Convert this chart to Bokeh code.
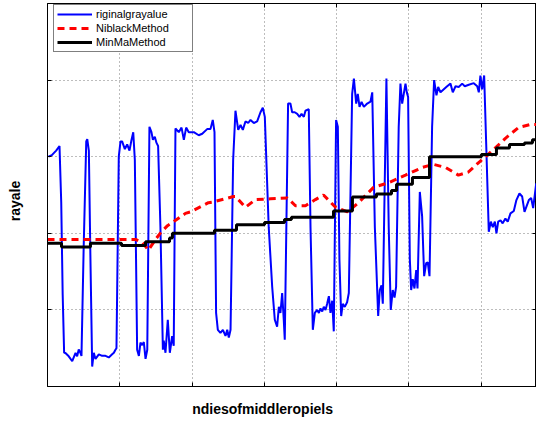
import math
from bokeh.plotting import figure
from bokeh.models import Range1d, LinearAxis, FixedTicker, Legend, LegendItem, Title
from bokeh.embed import file_html
from bokeh.resources import INLINE

# ---- data (pixel index along the middle row, gray value) ----
orig_x = [0.7, 3, 6, 8.3,
          9.5, 10.5, 11.5, 12.4, 14.7, 17.1, 19.4, 20.5, 21.6, 22.8,
          23.5, 25, 26.8, 27.5, 28.6, 29.7, 30.9,
          32, 33.2, 35.5, 37.8, 40.1, 42.4, 44.7, 45.9, 47,
          47.7, 49.3, 50.5, 51.6, 53.5, 55.1, 56.7, 58.1, 59.3,
          60.4, 62, 63.2, 64.3, 65.5, 66.6, 67.8, 69,
          70.5, 71.9, 72.9, 74.2, 75.4, 76.5,
          78.1, 79.8, 80.4, 81.6, 83.2, 84.6, 86.2, 87.3,
          88.5, 90.8, 92.7, 94.3, 95.9, 97.7, 101.2, 104.6, 107, 110.4, 112.7, 114.3, 115.5,
          116.6, 117.8, 119.6, 121.3, 123.1, 124.3, 125.4, 126.6,
          128.4, 130, 131.9, 133.5, 135.1, 136.9, 138.8, 140.4, 142.7, 145, 147.3, 148.9, 150.3,
          153, 155.4, 157.2, 158.8, 160, 161.1, 162.3, 163.4, 164.1,
          166.4, 168, 169.2, 171, 172.7, 174.3, 175.7, 177.3, 178.4, 180.7,
          181.9, 183.5, 184.9, 186.5, 187.7, 188.8, 190, 191.1, 192.3, 193.4, 194.6, 195.7, 196.9, 198,
          199.6, 200.8, 201.9, 203.1, 204.2, 205.6, 207.2, 208.4,
          210.7, 211.9, 213.5, 214.6, 215.8, 217.2, 218.8, 221.1, 223.4, 224.6,
          226.4, 228.7, 229.8, 231, 231.9,
          234.4, 236, 237.4, 238.8, 240, 241.1,
          242.9, 244.1, 245.3, 246.4, 247.6, 248.5, 249.4,
          250.6, 251.5, 252.6, 253.8, 255, 255.9,
          257.5, 259.1, 260.5, 261.9, 263, 264.2,
          266, 267.4, 269, 270.2, 271.8, 274.1, 276.4, 278.7, 280.3, 282.2, 284.4, 286.8, 288.6,
          291.4, 294.8, 297.2, 298.3, 299.4, 300.6, 302,
          303.4, 305.2, 306.6, 308, 309.4, 310.5, 311.7, 313.3, 314.8, 316.7, 318.3, 320.2, 322.5,
          324.3, 326.4, 328.3, 329.9, 331.3, 332.9, 334.5, 335.9, 338]
orig_y = [150, 151, 154, 157,
          120, 60, 22, 21.9, 19.7, 16.5, 21.9, 19.7, 24.1, 21.9,
          20, 90, 160, 161.5, 154, 83, 13,
          22, 18, 21, 20, 20, 19, 21, 22, 24,
          25, 150, 160, 160, 155, 158, 154, 161, 166,
          148, 24, 20, 28.6, 27, 29, 18, 24,
          169.5, 166, 161, 163, 159, 157,
          104, 24, 30, 22, 43.6, 22, 32.8, 26.6,
          168.4, 166, 169, 161, 169, 166, 166, 164, 165, 168, 168, 174, 166,
          48, 37, 35, 37, 33, 37, 32, 37,
          148, 180, 167.5, 170.7, 167.5, 173, 172, 174, 172, 173, 179, 182, 176,
          104, 65, 43.6, 39, 52, 48, 61, 43.6, 30.6,
          184.7, 184.7, 179, 179, 178, 176, 178, 176, 180, 181,
          104, 37, 48, 50, 48, 51, 49, 52, 50, 54, 59, 48, 56, 36,
          174, 169.5, 83, 46, 54, 52, 55, 61,
          191, 201, 184.7, 191, 182.5, 185.8, 182.5, 184.7, 186, 192,
          104, 46, 63, 66, 54,
          201, 104, 50, 63, 58, 65,
          169.5, 197.7, 184.7, 191, 197.7, 192, 189,
          83, 63, 70, 64, 76, 64,
          127, 111, 72, 80.5, 81, 72,
          169.5, 200, 190, 195.5, 192, 194, 196, 197.7, 192, 196, 195.5, 197.7, 196,
          197, 198, 196, 192, 203, 194, 203,
          158.6, 101, 107.6, 104, 107.6, 100, 107.6, 108.5, 106.5, 109.6, 107.6, 113, 114.6,
          121.7, 126, 124, 114, 117.6, 121.7, 123, 116.5, 132.6]

niblack_x = [0, 60.9, 65.7, 69.8, 74.7, 78.8, 83, 87.1, 95.4, 98.9, 111.3, 114.8, 128.6,
             130, 136.9, 143.8, 154.2, 166, 171.5, 178.4, 185.3, 190.9, 199.2, 207.5,
             215.1, 225.5, 235.8, 247.6, 259.3, 266.9, 275.2, 284.2, 291.1, 298, 307.7,
             316.7, 325.7, 334, 338.2]
niblack_y = [96, 96, 94, 89, 96, 101, 105, 107.5, 113, 114, 120, 120.5, 124,
             124, 117, 122, 122.5, 123, 118, 118, 122, 125, 117, 114,
             120, 130, 133, 138, 143, 145, 143, 138, 140, 146, 154,
             162, 169, 171, 171]

minmax_x = [0, 9.7, 29.7, 51.2, 67.8, 84.4, 86.4, 115.5, 130.7, 150.1, 163.9, 168.7,
            197.8, 210.9, 227.5, 237.9, 241.4, 252.4, 264.2, 300.1, 310.5, 319.5,
            329.9, 335.4, 338.2]
minmax_y = [93.5, 91, 93.5, 92, 94.5, 97, 100, 102, 105.5, 107, 109, 110.5,
            114.6, 123.7, 125.6, 128, 132, 136.5, 150, 151.5, 155.6, 158,
            159, 161, 161]

x_ticks = [50, 100, 150, 200, 250, 300]
y_ticks = [50, 100, 150, 200]
series_labels = ["riginalgrayalue", "NiblackMethod", "MinMaMethod"]
x_title = "ndiesofmiddleropiels"
y_title = "rayale"

FONT = "Liberation Sans"

p = figure(width=536, height=428, output_backend="svg", toolbar_location=None,
           x_range=Range1d(0, 338.2), y_range=Range1d(0, 250),
           min_border_left=47, min_border_right=0, min_border_top=3, min_border_bottom=41,
           background_fill_color="white", border_fill_color="white")
p.outline_line_color = "black"
p.outline_line_width = 1


def style_axis(ax, ticks):
    ax.ticker = FixedTicker(ticks=ticks)
    ax.major_label_text_font_size = "0px"
    ax.major_label_text_color = None
    ax.major_label_standoff = 0
    ax.major_tick_in = 4
    ax.major_tick_out = 0
    ax.minor_tick_line_color = None
    ax.axis_line_color = "black"
    ax.major_tick_line_color = "black"
    ax.major_tick_line_width = 1


style_axis(p.xaxis[0], x_ticks)
style_axis(p.yaxis[0], y_ticks)
top_ax = LinearAxis()
style_axis(top_ax, x_ticks)
right_ax = LinearAxis()
style_axis(right_ax, y_ticks)
p.add_layout(top_ax, "above")
p.add_layout(right_ax, "right")

# invisible spacer axis that pushes the y title outwards
spacer = LinearAxis()
style_axis(spacer, y_ticks)
spacer.major_tick_in = 0
spacer.major_tick_out = 21
spacer.major_tick_line_color = None
spacer.axis_line_color = None
p.add_layout(spacer, "left")

for g in (p.xgrid[0], p.ygrid[0]):
    g.grid_line_color = "#7a7a7a"
    g.grid_line_dash = "1 3"
    g.grid_line_width = 1

r_blue = p.line(orig_x, orig_y, line_color="#0000ff", line_width=2)
r_red = p.line(niblack_x, niblack_y, line_color="#ff0000", line_width=3, line_dash="7 5")
r_black = p.step(minmax_x, minmax_y, mode="after", line_color="black", line_width=3)

legend = Legend(items=[LegendItem(label=series_labels[0], renderers=[r_blue]),
                       LegendItem(label=series_labels[1], renderers=[r_red]),
                       LegendItem(label=series_labels[2], renderers=[r_black])],
                location=(6, 334))
legend.label_text_font = FONT
legend.label_text_font_size = "11px"
legend.label_text_color = "black"
legend.glyph_height = 12
legend.label_height = 12
legend.glyph_width = 35
legend.label_width = 93
legend.label_standoff = 4
legend.spacing = 2
legend.padding = 3
legend.margin = 0
legend.border_line_color = "black"
legend.border_line_width = 1
legend.background_fill_color = "white"
legend.background_fill_alpha = 1
p.add_layout(legend, "center")

xt = Title(text=x_title, align="left", offset=144.7, standoff=24,
           text_font=FONT, text_font_style="bold", text_font_size="14px", text_color="black")
yt = Title(text=y_title, align="left", offset=165.3, standoff=8,
           text_font=FONT, text_font_style="bold", text_font_size="14px", text_color="black")
p.add_layout(xt, "below")
p.add_layout(yt, "left")

open("out.html", "w").write(file_html(p, INLINE))
